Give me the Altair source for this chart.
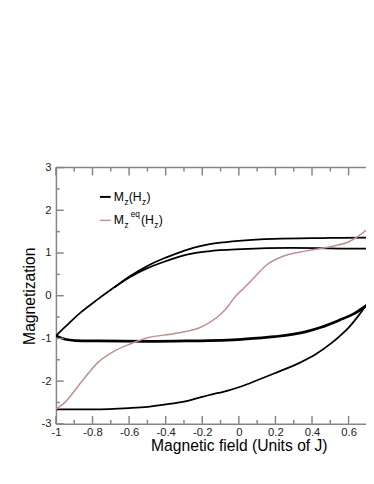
import altair as alt
import pandas as pd

# ---------------- data ----------------
# Mz(Hz) hysteresis, upper-most branch
A_x = [-1.0, -0.947, -0.861, -0.77, -0.68, -0.594, -0.503, -0.412, -0.32, -0.25, -0.166, -0.08, 0.016, 0.193, 0.46, 0.7, 0.75]
A_y = [-0.94, -0.72, -0.38, -0.08, 0.2, 0.46, 0.69, 0.87, 1.02, 1.12, 1.2, 1.25, 1.29, 1.33, 1.35, 1.36, 1.36]
# second upper branch
B_x = [-0.68, -0.594, -0.503, -0.412, -0.32, -0.25, -0.166, 0.016, 0.283, 0.7, 0.75]
B_y = [0.2, 0.44, 0.64, 0.79, 0.92, 0.99, 1.04, 1.09, 1.12, 1.10, 1.10]
# middle (thick) branch
C_x = [-1.0, -0.95, -0.893, -0.77, -0.5, -0.289, 0.016, 0.193, 0.369, 0.45, 0.551, 0.63, 0.695, 0.75]
C_y = [-0.94, -1.02, -1.05, -1.06, -1.07, -1.06, -1.02, -0.96, -0.84, -0.74, -0.57, -0.42, -0.24, -0.08]
# lowest branch
D_x = [-1.0, -0.8, -0.6, -0.5, -0.41, -0.3, -0.235, -0.166, -0.06, 0.016, 0.1, 0.193, 0.337, 0.42, 0.497, 0.55, 0.604, 0.65, 0.695, 0.75]
D_y = [-2.66, -2.66, -2.63, -2.6, -2.55, -2.48, -2.41, -2.33, -2.22, -2.12, -1.98, -1.82, -1.56, -1.37, -1.14, -0.95, -0.73, -0.49, -0.23, 0.05]
# Mz^eq(Hz)
E_x = [-1.0, -0.947, -0.861, -0.77, -0.679, -0.594, -0.503, -0.342, -0.198, -0.075, -0.021, 0.032, 0.07, 0.155, 0.246, 0.369, 0.513, 0.604, 0.695, 0.75]
E_y = [-2.66, -2.48, -2.02, -1.56, -1.29, -1.13, -0.99, -0.88, -0.72, -0.33, -0.03, 0.2, 0.36, 0.73, 0.93, 1.05, 1.16, 1.27, 1.53, 1.75]

x_labels = [-1, -0.8, -0.6, -0.4, -0.2, 0, 0.2, 0.4, 0.6]
x_minor = [-0.9, -0.7, -0.5, -0.3, -0.1, 0.1, 0.3, 0.5]
y_labels = [-3, -2, -1, 0, 1, 2, 3]
y_minor = [-2.5, -1.5, -0.5, 0.5, 1.5, 2.5]

# ---------------- layout ----------------
W, H = 317, 262
X_MIN, X_MAX = -1.0, -1.0 + W / 187.0
AX = "#858585"
FONT = "Liberation Sans"

def frame(xs, ys, name):
    return pd.DataFrame({"x": xs, "y": ys, "curve": name, "i": range(len(xs))})

black = pd.concat([frame(A_x, A_y, "A"), frame(B_x, B_y, "B"), frame(D_x, D_y, "D")])
thick = frame(C_x, C_y, "C")
pink = frame(E_x, E_y, "E")

xs = alt.Scale(domain=[X_MIN, X_MAX], nice=False, zero=False)
ys = alt.Scale(domain=[-3, 3], nice=False, zero=False)

x_axis = alt.Axis(values=x_labels, labelExpr="'' + datum.value", ticks=False, tickSize=0,
                  grid=False, labelPadding=3, titleX=187, titleY=27, labelOverlap=False,
                  labelFlush=False, titleBaseline="alphabetic", domainColor=AX, domainWidth=1.5)
y_axis = alt.Axis(values=y_labels, labelExpr="'' + datum.value", ticks=False, tickSize=0,
                  grid=False, labelPadding=5, titleX=-22, titleBaseline="alphabetic",
                  labelOverlap=False, labelFlush=False, domainColor=AX, domainWidth=1.5)
X_T = "Magnetic field (Units of J)"
Y_T = "Magnetization"

def xe(): return alt.X("x:Q", scale=xs, title=X_T, axis=x_axis)
def ye(): return alt.Y("y:Q", scale=ys, title=Y_T, axis=y_axis)

black_l = alt.Chart(black).mark_line(color="black", strokeWidth=1.8, clip=True, interpolate="monotone").encode(
    x=xe(), y=ye(), detail="curve:N", order="i:Q")
thick_l = alt.Chart(thick).mark_line(color="black", strokeWidth=2.8, clip=True, interpolate="monotone").encode(
    x=xe(), y=ye(), order="i:Q")
pink_l = alt.Chart(pink).mark_line(color="#c09090", strokeWidth=1.5, clip=True, interpolate="monotone").encode(
    x=xe(), y=ye(), order="i:Q")

def ticks_x(vals, length):
    d = pd.DataFrame({"x": vals})
    bot = alt.Chart(d).mark_rule(color=AX, strokeWidth=1.5).encode(
        x=xe(), y=alt.value(H), y2=alt.value(H - length))
    top = alt.Chart(d).mark_rule(color=AX, strokeWidth=1.5).encode(
        x=xe(), y=alt.value(0), y2=alt.value(length))
    return [bot, top]

def ticks_y(vals, length):
    d = pd.DataFrame({"y": vals})
    return [alt.Chart(d).mark_rule(color=AX, strokeWidth=1.5).encode(
        y=ye(), x=alt.value(0), x2=alt.value(length))]

top_line = alt.Chart(pd.DataFrame({"a": [0]})).mark_rule(color=AX, strokeWidth=1.5).encode(
    x=alt.value(0), x2=alt.value(W), y=alt.value(0))

# legend (drawn by hand to allow sub/superscripts)
leg_d = pd.DataFrame({"a": [0]})
leg = [
    alt.Chart(leg_d).mark_rule(color="black", strokeWidth=2).encode(x=alt.value(45), x2=alt.value(56), y=alt.value(30)),
    alt.Chart(leg_d).mark_rule(color="#c09090", strokeWidth=1.5).encode(x=alt.value(45), x2=alt.value(56), y=alt.value(54)),
]
pieces = [
    ("M", 59, 34, 12.5), ("z", 70, 38, 8.5), ("(H", 74.5, 34, 12.5), ("z", 88, 38, 8.5), (")", 92.5, 34, 12.5),
    ("M", 59, 58, 12.5), ("z", 70, 62, 8.5), ("eq", 76.5, 51, 8.5), ("(H", 87, 58, 12.5), ("z", 100.5, 62, 8.5), (")", 105, 58, 12.5),
]
for t, px, py, fs in pieces:
    leg.append(alt.Chart(leg_d).mark_text(text=t, align="left", baseline="alphabetic", fontSize=fs,
                                          font=FONT, color="black").encode(x=alt.value(px), y=alt.value(py)))

layers = [black_l, thick_l, pink_l, top_line]
layers += ticks_x(x_labels, 8) + ticks_x(x_minor, 4) + ticks_y(y_labels, 8) + ticks_y(y_minor, 4)
layers += leg

chart = alt.layer(*layers).properties(
    width=W, height=H,
    autosize=alt.AutoSizeParams(type="none"),
    padding={"left": 49, "top": 158, "right": 0, "bottom": 40},
).configure_view(stroke=None).configure_axis(
    labelFont=FONT, titleFont=FONT, labelFontSize=11.5, titleFontSize=16,
    labelColor="#222", titleColor="black", titleFontWeight="normal", labelOverlap=False,
)

chart.save("out.html", embed_options={"renderer": "svg", "actions": False})
